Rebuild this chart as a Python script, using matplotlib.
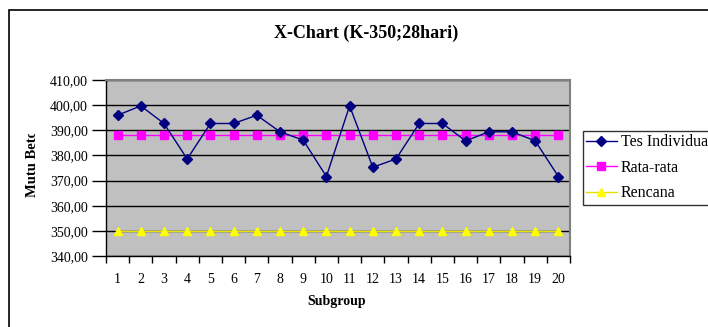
import matplotlib
matplotlib.use("Agg")
import matplotlib.pyplot as plt
from matplotlib.patches import Rectangle
from matplotlib.ticker import FixedLocator, FuncFormatter

# Data
subgroups = list(range(1, 21))
tes_individual = [396.0, 399.7, 392.7, 378.6, 392.7, 392.7, 396.0, 389.4, 386.1, 371.6,
                  399.7, 375.3, 378.6, 392.7, 392.7, 385.8, 389.4, 389.4, 385.8, 371.6]
rata_rata = [388.3] * 20
rencana = [350.0] * 20
y_ticks = [340, 350, 360, 370, 380, 390, 400, 410]

W, H = 708, 327
fig = plt.figure(figsize=(W / 100, H / 100), dpi=100)
plt.rcParams['font.family'] = ['Liberation Serif', 'DejaVu Serif']

def px(x0, y0, x1, y1):
    return [x0 / W, 1 - y1 / H, (x1 - x0) / W, (y1 - y0) / H]

# chart frame
fig.patches.append(Rectangle((9 / W, -0.1), 1.2, 1 - 10 / H + 0.1, transform=fig.transFigure,
                             fill=False, edgecolor='black', linewidth=1.2))

ax = fig.add_axes(px(106, 80, 570, 256))
ax.set_facecolor('#C0C0C0')

ax.plot(subgroups, tes_individual, color='#000080', marker='D', markersize=5,
        linewidth=1, label='Tes Individual', zorder=4)
ax.plot(subgroups, rata_rata, color='#FF00FF', marker='s', markersize=6,
        linewidth=1, label='Rata-rata', zorder=3)
ax.plot(subgroups, rencana, color='#E8E000', marker='^', markerfacecolor='#FFFF00',
        markeredgecolor='#FFFF00', markersize=6, linewidth=1, label='Rencana', zorder=3)

ax.set_xlim(0.5, 20.5)
ax.set_ylim(340, 410)
ax.yaxis.set_major_locator(FixedLocator(y_ticks))
ax.yaxis.set_major_formatter(FuncFormatter(lambda v, p: f"{v:.2f}".replace('.', ',')))
ax.grid(axis='y', color='black', linewidth=1, zorder=1)
ax.set_axisbelow(True)

ax.set_xticks([i + 0.5 for i in range(0, 21)], minor=False)
ax.set_xticklabels([])
ax.set_xticks(subgroups, minor=True)
ax.set_xticklabels([str(s) for s in subgroups], minor=True)
ax.tick_params(axis='x', which='major', direction='out', length=5, width=1, color='black')
ax.tick_params(axis='x', which='minor', length=0, pad=12, labelsize=10)
ax.tick_params(axis='y', direction='out', length=10, width=1, pad=3, labelsize=10)

for s in ['left', 'bottom']:
    ax.spines[s].set_color('black')
    ax.spines[s].set_linewidth(1)
for s in ['top', 'right']:
    ax.spines[s].set_color('#808080')
    ax.spines[s].set_linewidth(1.5)

fig.text(366 / W, 1 - 33 / H, 'X-Chart (K-350;28hari)', ha='center', va='center',
         fontsize=13, fontweight='bold')
fig.text(337 / W, 1 - 302 / H, 'Subgroup', ha='center', va='center',
         fontsize=10, fontweight='bold')

ylab = fig.text(33 / W, 1 - 197 / H, 'Mutu Beton', rotation=90, rotation_mode='anchor',
                ha='left', va='center', fontsize=10.5, fontweight='bold')
clip = Rectangle((0, 0), 1, 1 - 134 / H, transform=fig.transFigure, visible=False)
fig.patches.append(clip)
ylab.set_clip_path(clip)

leg = fig.legend(loc='upper left', bbox_to_anchor=(583 / W, 1 - 131 / H),
                 frameon=True, fancybox=False, edgecolor='black', fontsize=11.5,
                 handlelength=1.9, handletextpad=0.25, borderpad=0.2, labelspacing=0.6,
                 borderaxespad=0)
leg.get_frame().set_linewidth(1)

fig.savefig('out.png', dpi=100)
